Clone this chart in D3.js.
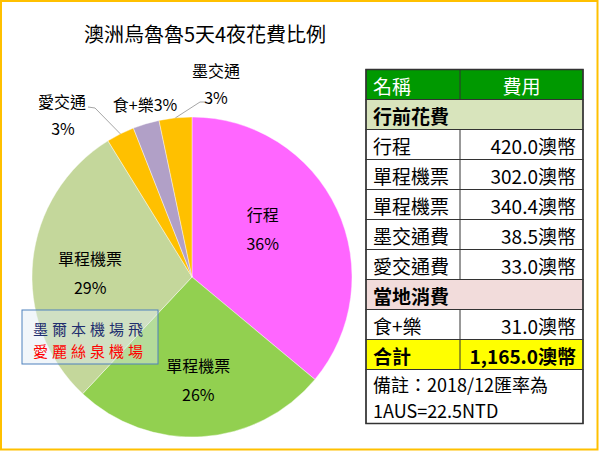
<!DOCTYPE html>
<html>
<head>
<meta charset="utf-8">
<script src="https://cdn.jsdelivr.net/npm/d3@7"></script>
<style>
  html, body { margin: 0; padding: 0; background: #fff; }
  svg { display: block; font-family: "Noto Sans CJK TC", "Noto Sans", sans-serif; }
</style>
</head>
<body>
<svg id="chart" width="600" height="451"></svg>
<script>
// pie slices, clockwise from 12 o'clock
const sliceLabels = ['行程', '單程機票', '單程機票', '愛交通', '食+樂', '墨交通'];
const sliceValues = [420.0, 302.0, 340.4, 33.0, 31.0, 38.5];
const sliceColors = ['#FF66FF', '#92D050', '#C4D79B', '#FFC000', '#B1A0C7', '#FFC000'];

// cost table
const preTripNames = ['行程', '單程機票', '單程機票', '墨交通費', '愛交通費'];
const preTripCosts = [420.0, 302.0, 340.4, 38.5, 33.0];
const localNames = ['食+樂'];
const localCosts = [31.0];
const totalCost = 1165.0;
const noteLines = ['備註：2018/12匯率為', '1AUS=22.5NTD'];

const W = 600, H = 451;
const CX = 192, CY = 277, R = 160;

const svg = d3.select('#chart');

// frame
svg.append('rect')
  .attr('x', 1).attr('y', 1).attr('width', W - 3.5).attr('height', H - 2.5)
  .attr('fill', '#fff').attr('stroke', '#FFC000').attr('stroke-width', 2);

// title
svg.append('text')
  .attr('x', 205).attr('y', 33)
  .attr('text-anchor', 'middle').attr('dominant-baseline', 'central')
  .attr('font-size', 20).attr('fill', '#000')
  .text('澳洲烏魯魯5天4夜花費比例');

// ---- pie ----
const pie = d3.pie().sort(null).value(d => d);
const arcs = pie(sliceValues);
const total = d3.sum(sliceValues);
const pct = d3.format('.0%');
const arc = d3.arc().innerRadius(0).outerRadius(R);
const labelArc = d3.arc().innerRadius(R * 0.64).outerRadius(R * 0.64);
const edgeArc = d3.arc().innerRadius(R).outerRadius(R);

const g = svg.append('g').attr('transform', `translate(${CX},${CY})`);

g.selectAll('path.slice')
  .data(arcs)
  .join('path')
  .attr('class', 'slice')
  .attr('d', arc)
  .attr('fill', (d, i) => sliceColors[i])
  .attr('stroke', '#fff').attr('stroke-width', 0.6).attr('stroke-opacity', 0.7);

// inside labels for the big slices
const nudge = [[-22, -11], [0, -5], [0, 0]];
arcs.slice(0, 3).forEach((d, i) => {
  const [x, y] = labelArc.centroid(d);
  const t = g.append('text')
    .attr('text-anchor', 'middle').attr('font-size', 16).attr('fill', '#000');
  t.append('tspan').attr('x', x + nudge[i][0]).attr('y', y + nudge[i][1] - 9)
    .attr('dominant-baseline', 'central').text(sliceLabels[i]);
  t.append('tspan').attr('x', x + nudge[i][0]).attr('y', y + nudge[i][1] + 20)
    .attr('dominant-baseline', 'central').text(pct(sliceValues[i] / total));
});

// outside labels for the small slices (positions relative to pie centre)
const outside = [
  { i: 3, lines: [[62 - CX, 101 - CY], [63 - CX, 128 - CY]], lead: [88 - CX, 107 - CY], bend: [95 - CX, 108 - CY] },
  { i: 4, lines: [[145 - CX, 104 - CY]], one: true },
  { i: 5, lines: [[216 - CX, 70 - CY], [216 - CX, 97 - CY]], lead: [205 - CX, 102 - CY], bend: [200 - CX, 102 - CY] }
];

outside.forEach(o => {
  const d = arcs[o.i];
  if (o.lead) {
    const p = edgeArc.centroid(d);
    g.append('path')
      .attr('d', d3.line()([o.lead, o.bend, p]))
      .attr('fill', 'none').attr('stroke', '#A6A6A6').attr('stroke-width', 1);
  }
  const txt = o.one
    ? [sliceLabels[o.i] + pct(sliceValues[o.i] / total)]
    : [sliceLabels[o.i], pct(sliceValues[o.i] / total)];
  txt.forEach((s, k) => {
    g.append('text')
      .attr('x', o.lines[k][0]).attr('y', o.lines[k][1])
      .attr('text-anchor', 'middle').attr('dominant-baseline', 'central')
      .attr('font-size', 16).attr('fill', '#000')
      .text(s);
  });
});

// watermark box
const wm = svg.append('g');
wm.append('rect')
  .attr('x', 22).attr('y', 310).attr('width', 136).attr('height', 54)
  .attr('fill', 'rgba(225,235,245,0.45)')
  .attr('stroke', '#4F81BD').attr('stroke-width', 1);
wm.append('text')
  .attr('x', 33).attr('y', 328).attr('dominant-baseline', 'central')
  .attr('font-size', 15).attr('letter-spacing', 4).attr('fill', '#1F2E6E')
  .text('墨爾本機場飛');
wm.append('text')
  .attr('x', 33).attr('y', 350).attr('dominant-baseline', 'central')
  .attr('font-size', 15).attr('letter-spacing', 4).attr('fill', '#FF0000')
  .text('愛麗絲泉機場');

// ---- table ----
const TX0 = 366, TX1 = 460, TX2 = 583, TY0 = 69.5, RH = 30;
const fmt = d3.format(',.1f');

const rows = [];
rows.push({ kind: 'head', a: '名稱', b: '費用' });
rows.push({ kind: 'section', a: '行前花費', fill: '#D8E4BC' });
preTripNames.forEach((n, i) => rows.push({ kind: 'item', a: n, b: fmt(preTripCosts[i]) + '澳幣' }));
rows.push({ kind: 'section', a: '當地消費', fill: '#F2DCDB' });
localNames.forEach((n, i) => rows.push({ kind: 'item', a: n, b: fmt(localCosts[i]) + '澳幣' }));
rows.push({ kind: 'total', a: '合計', b: fmt(totalCost) + '澳幣' });

const tg = svg.append('g').attr('font-size', 19);

rows.forEach((r, i) => {
  const y = TY0 + i * RH;
  const fill = r.kind === 'head' ? '#009900' : r.kind === 'total' ? '#FFFF00' : r.fill || '#fff';
  tg.append('rect')
    .attr('x', TX0).attr('y', y).attr('width', TX2 - TX0).attr('height', RH)
    .attr('fill', fill).attr('stroke', '#333').attr('stroke-width', 1);
  if (r.kind !== 'section') {
    tg.append('line')
      .attr('x1', TX1).attr('x2', TX1).attr('y1', y).attr('y2', y + RH)
      .attr('stroke', '#333').attr('stroke-width', 1);
  }
  const color = r.kind === 'head' ? '#fff' : '#000';
  const weight = (r.kind === 'section' || r.kind === 'total') ? 'bold' : 'normal';
  tg.append('text')
    .attr('x', TX0 + 7).attr('y', y + RH / 2 + 1)
    .attr('dominant-baseline', 'central')
    .attr('fill', color).attr('font-weight', weight)
    .text(r.a);
  if (r.b) {
    const head = r.kind === 'head';
    tg.append('text')
      .attr('x', head ? (TX1 + TX2) / 2 : TX2 - 7).attr('y', y + RH / 2 + 1)
      .attr('text-anchor', head ? 'middle' : 'end')
      .attr('dominant-baseline', 'central')
      .attr('fill', color).attr('font-weight', weight)
      .text(r.b);
  }
});

// note cell
const noteY = TY0 + rows.length * RH;
tg.append('rect')
  .attr('x', TX0).attr('y', noteY).attr('width', TX2 - TX0).attr('height', 54)
  .attr('fill', '#fff').attr('stroke', '#333').attr('stroke-width', 1);
noteLines.forEach((s, k) => {
  tg.append('text')
    .attr('x', TX0 + 7).attr('y', noteY + 14 + k * 26)
    .attr('dominant-baseline', 'central').attr('fill', '#000')
    .attr('font-size', 18)
    .text(s);
});

// heavier outer border on the table
tg.append('rect')
  .attr('x', TX0).attr('y', TY0).attr('width', TX2 - TX0).attr('height', noteY + 54 - TY0)
  .attr('fill', 'none').attr('stroke', '#333').attr('stroke-width', 1.5);
</script>
</body>
</html>
